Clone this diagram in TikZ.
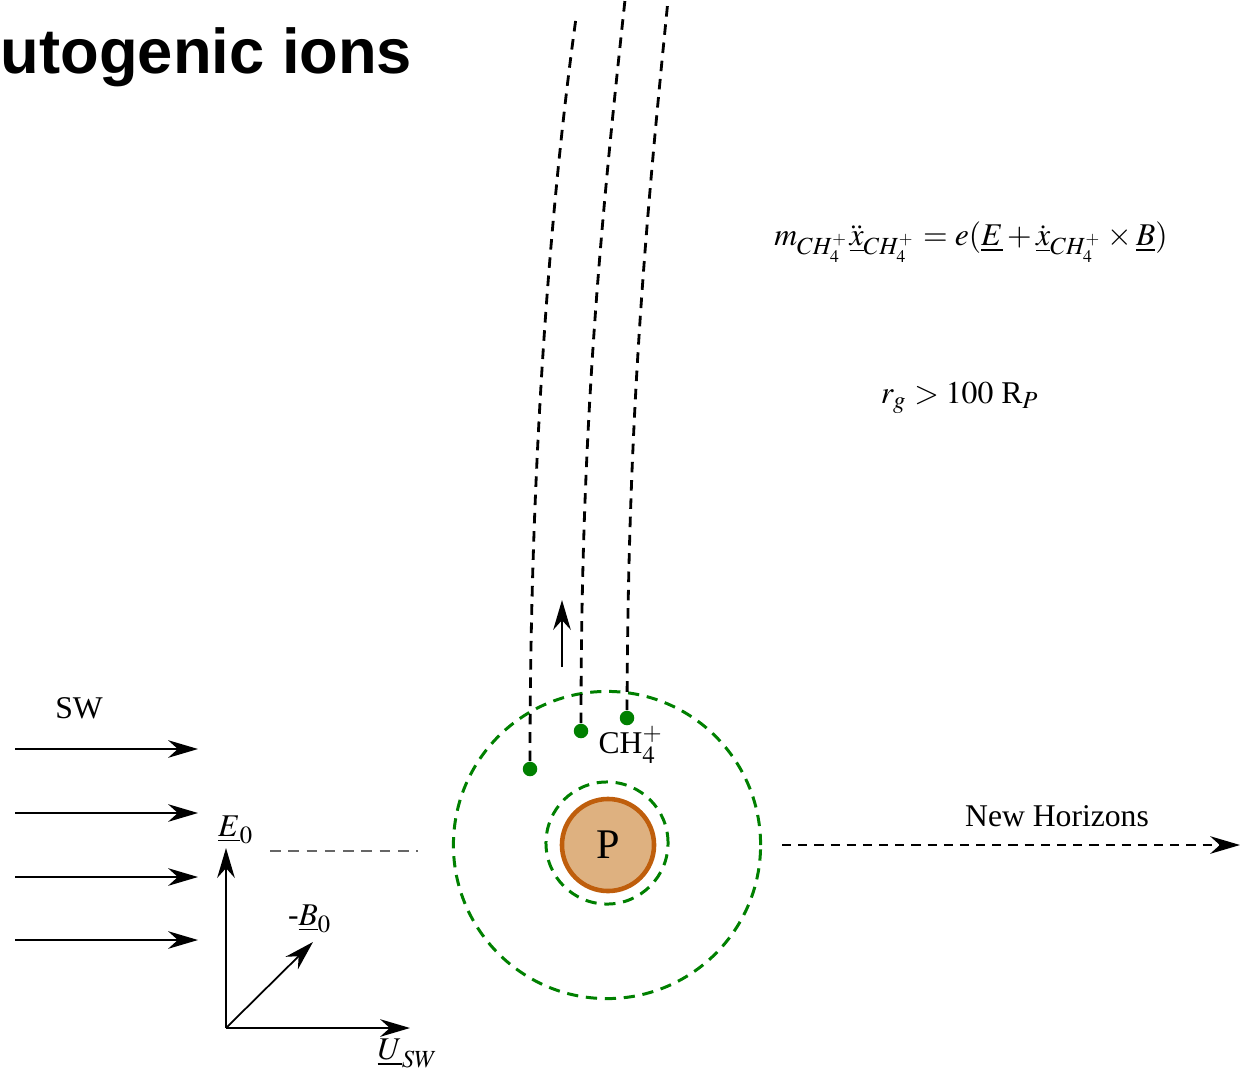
\documentclass[tikz,border=0pt]{standalone}
\usepackage{mathptmx}
\usepackage[no-math]{fontspec}
\setmainfont{Liberation Serif}
\newfontfamily\titlefont{Liberation Sans}
\usepackage{tikz}
\usetikzlibrary{positioning, arrows.meta}
\definecolor{iongreen}{RGB}{0, 128, 0}
\definecolor{plfill}{RGB}{222, 177, 128}
\definecolor{pledge}{RGB}{191, 94, 12}
\tikzset{
  flow/.style={draw=black, line width=0.5pt, -{Stealth[length=8.5pt, width=5pt]}},
  traj/.style={draw=black, line width=0.8pt, dash pattern=on 3pt off 2.2pt},
  shell/.style={draw=iongreen, line width=0.85pt, dash pattern=on 3.2pt off 2.2pt,
    circle, inner sep=0pt},
  ion/.style={circle, fill=iongreen, inner sep=0pt, minimum size=0.145cm},
  lbl/.style={font=\fontsize{9}{11}\selectfont, inner sep=1pt},
}

\begin{document}
\begin{tikzpicture}[x=0.01cm, y=-0.01cm, >=Stealth]
\useasboundingbox (0,0) rectangle (1240,1076);

\node[anchor=base west, inner sep=0pt, font=\titlefont\bfseries\fontsize{18}{20}\selectfont] (title) at (0,74) {utogenic ions};

\node[lbl] (eqmotion) at (971,242) {$m_{CH_4^+}\ddot{\underline{x}}_{CH_4^+} = e(\underline{E}+\dot{\underline{x}}_{CH_4^+}\times\underline{B})$};
\node[lbl] (gyro) at (960,398) {$r_g > 100$ R$_P$};

% solar wind
\foreach \y [count=\i] in {749, 813, 877, 940} {
  \coordinate (swA\i) at (15,\y);
  \coordinate (swB\i) at (198,\y);
  \draw[flow] (swA\i) -- (swB\i);
}
\node[lbl] (swlabel) at (79,708) {SW};

% axes
\coordinate (orig) at (226,1028);
\coordinate (eTip) at (226,848);
\coordinate (uTip) at (410,1028);
\coordinate (bTip) at (313,942);
\draw[flow] (orig) -- (eTip);
\draw[flow] (orig) -- (uTip);
\draw[flow] (orig) -- (bTip);
\node[lbl] (elabel) at (236,830) {$\underline{E}_0$};
\node[lbl] (blabel) at (310,919) {-$\underline{B}_0$};
\node[lbl] (ulabel) at (408,1053) {$\underline{U}_{SW}$};

\coordinate (gA) at (270,851);
\coordinate (gB) at (418,851);
\draw[black!60, line width=0.5pt, dash pattern=on 3pt off 2.2pt] (gA) -- (gB);

% planet and shells
\node[shell, minimum size=3.07cm] (outer) at (607,845) {};
\node[shell, minimum size=1.22cm] (inner) at (607,843) {};
\node[circle, draw=pledge, fill=plfill, line width=1.3pt, minimum size=0.92cm,
  inner sep=0pt, font=\fontsize{12}{14}\selectfont] (planet) at (608,845) {P};

% pick-up ions
\node[ion] (ion1) at (530,769) {};
\node[ion] (ion2) at (581,731) {};
\node[ion] (ion3) at (627,718) {};
\node[lbl] (ionlabel) at (631,745) {CH$_4^+$};

\coordinate (top1) at (576,18);
\coordinate (top2) at (625,0);
\coordinate (top3) at (668,0);
\draw[traj] (ion1) .. controls (530,459) and (551,198) .. (top1);
\draw[traj] (ion2) .. controls (581,431) and (600,230) .. (top2);
\draw[traj] (ion3) .. controls (628,420) and (645,230) .. (top3);

\coordinate (upA) at (562,667);
\coordinate (upB) at (562,600);
\draw[flow] (upA) -- (upB);

% spacecraft
\coordinate (nhA) at (782,845);
\coordinate (nhB) at (1240,845);
\draw[flow, dash pattern=on 2.6pt off 2pt] (nhA) -- (nhB);
\node[lbl] (nhlabel) at (1057,816) {New Horizons};

\end{tikzpicture}
\end{document}
